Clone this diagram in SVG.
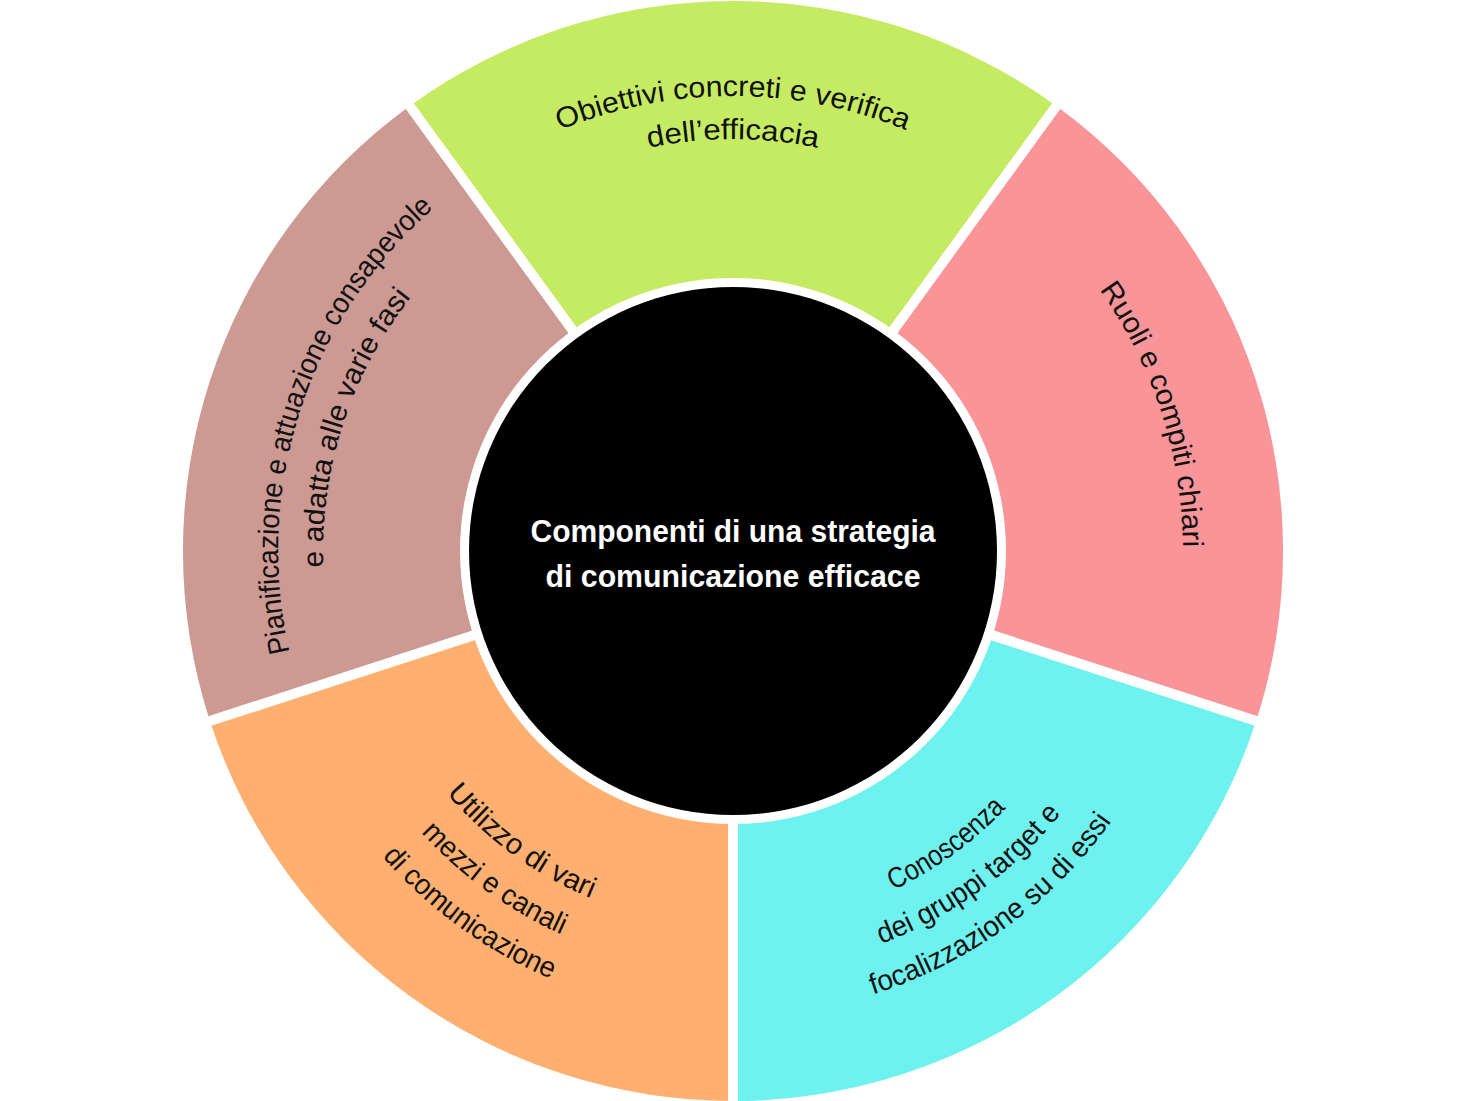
<svg xmlns="http://www.w3.org/2000/svg" width="1466" height="1101" viewBox="0 0 1466 1101">
<style>
.l{font-family:"Liberation Sans",sans-serif;font-size:29px;fill:#111;text-anchor:middle}
.c{font-family:"Liberation Sans",sans-serif;font-size:31px;font-weight:bold;fill:#fff;text-anchor:middle}
.gap{stroke:#fff;stroke-width:10}
</style>
<defs>
<path id="g1" d="M478.6,173.8 A455,455 0 0 1 987.4,173.8"/>
<path id="g2" d="M502.7,209.5 A412,412 0 0 1 963.3,209.5"/>
<path id="p1" d="M1010.2,196.4 A450,450 0 0 1 1165.5,675.2"/>
<path id="c1" d="M746.1,925.8 A375,375 0 0 0 1085.5,679.3"/>
<path id="c2" d="M747.7,970.7 A420,420 0 0 0 1127.8,694.6"/>
<path id="c3" d="M749.2,1015.7 A465,465 0 0 0 1170.1,710.0"/>
<path id="o1" d="M380.5,679.3 A375,375 0 0 0 719.9,925.8"/>
<path id="o2" d="M338.2,694.6 A420,420 0 0 0 718.3,970.7"/>
<path id="o3" d="M295.9,710.0 A465,465 0 0 0 716.8,1015.7"/>
<path id="m1" d="M295.8,676.4 A455,455 0 0 1 452.9,192.5"/>
<path id="m2" d="M339,664 A410,410 0 0 1 480.6,227.9"/>
</defs>
<rect width="1466" height="1101" fill="#fff"/>
<g id="seg-green"><path d="M733,551 L409.7,106 A550,550 0 0 1 1056.3,106 Z" fill="#C5EB63"/>
<text class="l" textLength="355" lengthAdjust="spacingAndGlyphs"><textPath href="#g1" startOffset="50%">Obiettivi concreti e verifica</textPath></text>
<text class="l" textLength="170" lengthAdjust="spacingAndGlyphs"><textPath href="#g2" startOffset="50%">dell’efficacia</textPath></text></g>
<g id="seg-pink"><path d="M733,551 L1056.3,106 A550,550 0 0 1 1256.1,721 Z" fill="#F99498"/>
<text class="l" textLength="275" lengthAdjust="spacingAndGlyphs"><textPath href="#p1" startOffset="50%">Ruoli e compiti chiari</textPath></text></g>
<g id="seg-cyan"><path d="M733,551 L1256.1,721 A550,550 0 0 1 733,1101 Z" fill="#6EF2F0"/>
<text class="l" textLength="140" lengthAdjust="spacingAndGlyphs"><textPath href="#c1" startOffset="50%">Conoscenza</textPath></text>
<text class="l" textLength="225" lengthAdjust="spacingAndGlyphs"><textPath href="#c2" startOffset="50%">dei gruppi target e</textPath></text>
<text class="l" textLength="300" lengthAdjust="spacingAndGlyphs"><textPath href="#c3" startOffset="50%">focalizzazione su di essi</textPath></text></g>
<g id="seg-orange"><path d="M733,551 L733,1101 A550,550 0 0 1 209.9,721 Z" fill="#FFAF70"/>
<text class="l" textLength="180" lengthAdjust="spacingAndGlyphs"><textPath href="#o1" startOffset="50%">Utilizzo di vari</textPath></text>
<text class="l" textLength="175" lengthAdjust="spacingAndGlyphs"><textPath href="#o2" startOffset="50%">mezzi e canali</textPath></text>
<text class="l" textLength="210" lengthAdjust="spacingAndGlyphs"><textPath href="#o3" startOffset="50%">di comunicazione</textPath></text></g>
<g id="seg-mauve"><path d="M733,551 L209.9,721 A550,550 0 0 1 409.7,106 Z" fill="#CC9A93"/>
<text class="l" textLength="490" lengthAdjust="spacingAndGlyphs"><textPath href="#m1" startOffset="50%">Pianificazione e attuazione consapevole</textPath></text>
<text class="l" textLength="290" lengthAdjust="spacingAndGlyphs"><textPath href="#m2" startOffset="50%">e adatta alle varie fasi</textPath></text></g>
<g id="connectors">
<line class="gap" x1="733" y1="551" x2="1265.6" y2="724.1"/>
<line class="gap" x1="733" y1="551" x2="733" y2="1111"/>
<line class="gap" x1="733" y1="551" x2="200.4" y2="724.1"/>
<line class="gap" x1="733" y1="551" x2="403.8" y2="97.9"/>
<line class="gap" x1="733" y1="551" x2="1062.2" y2="97.9"/>
</g>
<g id="center"><circle cx="733" cy="551" r="273" fill="#fff"/><circle cx="733" cy="551" r="264" fill="#000"/>
<text class="c" x="733" y="542" textLength="405" lengthAdjust="spacingAndGlyphs">Componenti di una strategia</text>
<text class="c" x="733" y="587" textLength="375" lengthAdjust="spacingAndGlyphs">di comunicazione efficace</text></g>
</svg>
